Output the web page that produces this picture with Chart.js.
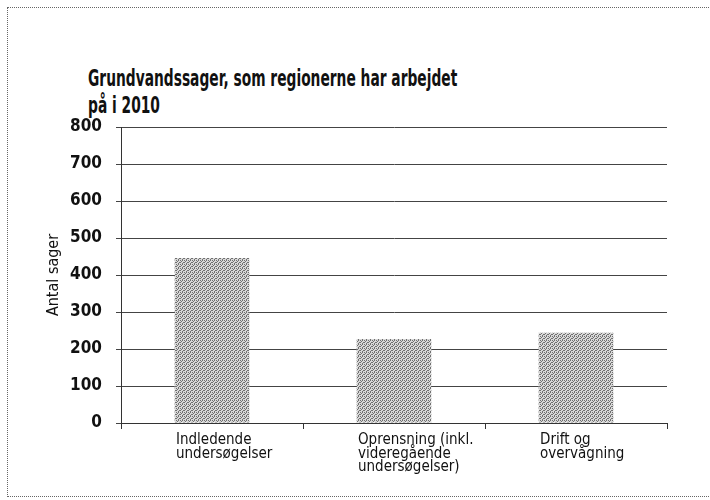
<!DOCTYPE html>
<html>
<head>
<meta charset="utf-8">
<script src="https://cdn.jsdelivr.net/npm/chart.js@4/dist/chart.umd.min.js"></script>
<style>
  body { margin: 0; background: #fff; }
  #wrap { position: relative; width: 710px; height: 500px; }
  #frame { position: absolute; left: 7px; top: 7px; width: 702px; height: 490px; border: 1px dotted #666; border-right: none; box-sizing: border-box; }
  /* the original title font is very narrow, so squeeze it */
  #title { position: absolute; left: 88px; top: 65px; font-family: 'DejaVu Sans', sans-serif; font-weight: bold; font-size: 23px; line-height: 27px; color: #111; white-space: nowrap; transform: scaleX(0.6); transform-origin: 0 0; }
  canvas { position: absolute; left: 0; top: 0; }
</style>
</head>
<body>
<div id="wrap">
  <div id="frame"></div>
  <div id="title">Grundvandssager, som regionerne har arbejdet<br>på i 2010</div>
  <canvas id="myChart" width="710" height="500"></canvas>
</div>
<script>
'use strict'
// the 3 kinds of cases, one bar each
let categories = [
    ['Indledende', 'undersøgelser'],
    ['Oprensning (inkl.', 'videregående', 'undersøgelser)'],
    ['Drift og', 'overvågning']
];
let caseCounts = [446, 227, 244];
let yMin = 0;
let yMax = 800;
let yStep = 100;
let yTitle = 'Antal sager';

let fontName = "'DejaVu Sans Condensed', 'DejaVu Sans', sans-serif";

// grey stipple like the printed bars
function makeStipple() {
    let c = document.createElement('canvas');
    c.width = 4;
    c.height = 4;
    let g = c.getContext('2d');
    g.fillStyle = '#d8d8d8';
    g.fillRect(0, 0, 4, 4);
    g.fillStyle = '#707070';
    g.fillRect(0, 0, 1, 1);
    g.fillRect(2, 0, 1, 1);
    g.fillRect(1, 1, 1, 1);
    g.fillRect(3, 2, 1, 1);
    g.fillRect(0, 2, 1, 1);
    g.fillRect(2, 3, 1, 1);
    return g.createPattern(c, 'repeat');
}

let ctx = document.getElementById('myChart').getContext('2d');
let myChart = new Chart(ctx, {
    type: 'bar',
    data: {
        labels: categories,
        datasets: [{
            label: yTitle,
            data: caseCounts,
            backgroundColor: makeStipple(),
            borderWidth: 0,
            categoryPercentage: 1,
            barPercentage: 0.41
        }]
    },
    options: {
        responsive: false,
        animation: false,
        layout: {
            padding: { top: 127, left: 42, right: 43, bottom: 0 }
        },
        plugins: {
            legend: { display: false },
            tooltip: { enabled: false }
        },
        scales: {
            x: {
                grid: {
                    drawOnChartArea: false,
                    drawTicks: true,
                    tickLength: 6,
                    color: '#333',
                    offset: true
                },
                border: { display: true, color: '#333', width: 1 },
                ticks: {
                    align: 'start',
                    labelOffset: -36,
                    padding: 5,
                    autoSkip: false,
                    maxRotation: 0,
                    color: '#111',
                    font: { family: fontName, size: 15, lineHeight: 0.88 }
                },
                afterFit: function (scale) {
                    scale.height = 77;
                }
            },
            y: {
                min: yMin,
                max: yMax,
                ticks: {
                    stepSize: yStep,
                    padding: 14,
                    color: '#111',
                    font: { family: fontName, size: 17, weight: 'bold' }
                },
                grid: {
                    color: '#444',
                    lineWidth: 1,
                    tickLength: 5
                },
                border: { display: true, color: '#333', width: 1 },
                title: {
                    display: true,
                    text: yTitle,
                    color: '#111',
                    padding: { top: 2, bottom: 4 },
                    font: { family: fontName, size: 16 }
                },
                afterFit: function (scale) {
                    scale.width = 79;
                }
            }
        }
    }
});
</script>
</body>
</html>
